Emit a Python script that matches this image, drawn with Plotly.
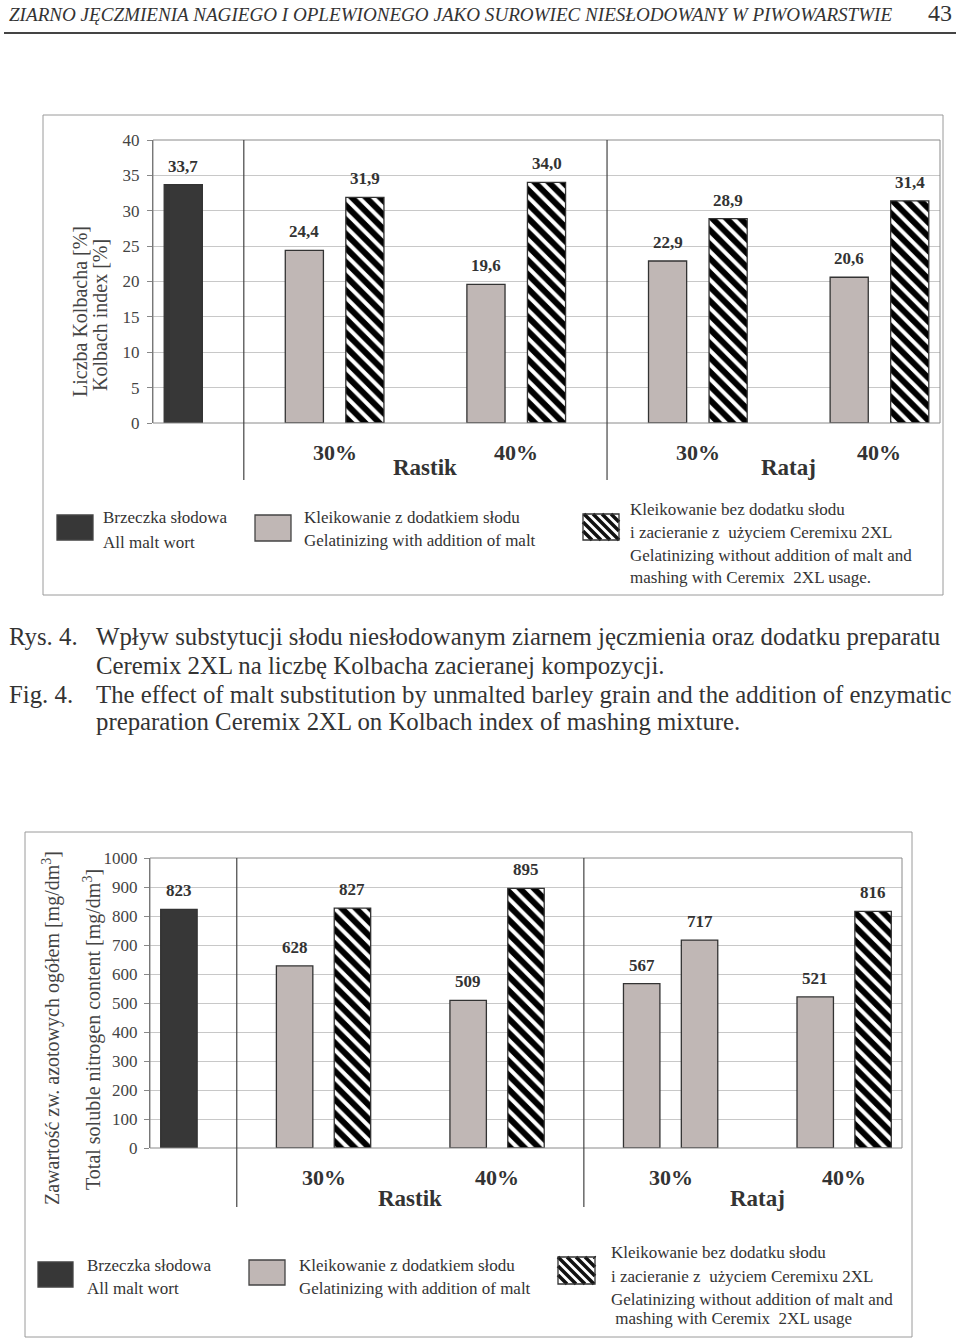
import plotly.graph_objects as go

W, H = 960, 1341

# ---------------- data ----------------
groups = ["Rastik 30%", "Rastik 40%", "Rataj 30%", "Rataj 40%"]
group_pct = ["30%", "40%", "30%", "40%"]
cultivars = ["Rastik", "Rataj"]

kolbach_wort = [33.7]
kolbach_gel = [24.4, 19.6, 22.9, 20.6]
kolbach_cer = [31.9, 34.0, 28.9, 31.4]

nitrogen_wort = [823]
nitrogen_first = [628, 509, 567, 521]
nitrogen_second = [827, 895, 717, 816]
nitrogen_second_hatched = [True, True, False, True]

legend_wort = ["Brzeczka słodowa", "All malt wort"]
legend_gel = ["Kleikowanie z dodatkiem słodu", "Gelatinizing with addition of malt"]
legend_cer_top = ["Kleikowanie bez dodatku słodu", "i zacieranie z  użyciem Ceremixu 2XL",
                  "Gelatinizing without addition of malt and", "mashing with Ceremix  2XL usage."]
legend_cer_bot = ["Kleikowanie bez dodatku słodu", "i zacieranie z  użyciem Ceremixu 2XL",
                  "Gelatinizing without addition of malt and", " mashing with Ceremix  2XL usage"]

header = "ZIARNO JĘCZMIENIA NAGIEGO I OPLEWIONEGO JAKO SUROWIEC NIESŁODOWANY W PIWOWARSTWIE"
page_no = "43"
caption = [
    ("Rys. 4.", "Wpływ substytucji słodu niesłodowanym ziarnem jęczmienia oraz dodatku preparatu"),
    ("", "Ceremix 2XL na liczbę Kolbacha zacieranej kompozycji."),
    ("Fig. 4.", "The effect of malt substitution by unmalted barley grain and the addition of enzymatic"),
    ("", "preparation Ceremix 2XL on Kolbach index of mashing mixture."),
]

# ---------------- style ----------------
FONT = "Liberation Serif"
TXT = "#333333"
DARK = "#373737"
GRAY = "#c0b7b5"
EDGE = "#333333"
GRID = "#c8c8c8"
BOX = "#9a9a9a"


def X(px):
    return px / W


def Y(py):
    return 1 - py / H


# slot layout: 0 = all-malt wort, groups occupy (2+3g, 3+3g), gaps at 1,4,7,10
wort_slot = [0]
first_slots = [2 + 3 * g for g in range(len(groups))]
second_slots = [3 + 3 * g for g in range(len(groups))]
pct_slots = [2.5 + 3 * g for g in range(len(groups))]
cult_slots = [4, 10]
sep_slots = [1, 7]
BW = 0.63

fig = go.Figure()

line_edge = dict(color=EDGE, width=1.3)
hatch = dict(shape="\\", fgcolor="#000000", bgcolor="white", size=10, solidity=0.6)

# ---- top chart (Kolbach index) ----
fig.add_trace(go.Bar(x=wort_slot, y=kolbach_wort, width=BW, xaxis="x", yaxis="y",
                     marker=dict(color=DARK, line=line_edge)))
fig.add_trace(go.Bar(x=first_slots, y=kolbach_gel, width=BW, xaxis="x", yaxis="y",
                     marker=dict(color=GRAY, line=line_edge)))
fig.add_trace(go.Bar(x=second_slots, y=kolbach_cer, width=BW, xaxis="x", yaxis="y",
                     marker=dict(color="white", line=line_edge, pattern=hatch)))

# ---- bottom chart (soluble nitrogen) ----
fig.add_trace(go.Bar(x=wort_slot, y=nitrogen_wort, width=BW, xaxis="x2", yaxis="y2",
                     marker=dict(color=DARK, line=line_edge)))
fig.add_trace(go.Bar(x=first_slots, y=nitrogen_first, width=BW, xaxis="x2", yaxis="y2",
                     marker=dict(color=GRAY, line=line_edge)))
sec_h_x = [s for s, h in zip(second_slots, nitrogen_second_hatched) if h]
sec_h_y = [v for v, h in zip(nitrogen_second, nitrogen_second_hatched) if h]
sec_p_x = [s for s, h in zip(second_slots, nitrogen_second_hatched) if not h]
sec_p_y = [v for v, h in zip(nitrogen_second, nitrogen_second_hatched) if not h]
fig.add_trace(go.Bar(x=sec_h_x, y=sec_h_y, width=BW, xaxis="x2", yaxis="y2",
                     marker=dict(color="white", line=line_edge, pattern=hatch)))
fig.add_trace(go.Bar(x=sec_p_x, y=sec_p_y, width=BW, xaxis="x2", yaxis="y2",
                     marker=dict(color=GRAY, line=line_edge)))

tickfont = dict(family=FONT, size=17, color="#444444")

fig.update_layout(
    template="none",
    width=W, height=H, margin=dict(l=0, r=0, t=0, b=0, pad=0, autoexpand=False),
    paper_bgcolor="white", plot_bgcolor="white", showlegend=False,
    bargap=0, font=dict(family=FONT, color=TXT),
    xaxis=dict(domain=[X(153), X(940)], range=[-0.5, 12.5], anchor="y", automargin=False,
               showticklabels=False, showgrid=False, zeroline=False, ticks="",
               showline=False),
    yaxis=dict(domain=[Y(423), Y(140)], range=[0, 40], dtick=5, anchor="x", automargin=False,
               showgrid=True, gridcolor=GRID, gridwidth=1, zeroline=False,
               showline=True, linecolor="#666666", linewidth=1,
               ticks="outside", ticklen=5, tickcolor="#888888",
               tickfont=tickfont, ticklabelstandoff=4),
    xaxis2=dict(domain=[X(150), X(902)], range=[-0.5, 12.5], anchor="y2", automargin=False,
                showticklabels=False, showgrid=False, zeroline=False, ticks="",
                showline=False),
    yaxis2=dict(domain=[Y(1148), Y(858)], range=[0, 1000], dtick=100, anchor="x2", automargin=False,
                showgrid=True, gridcolor=GRID, gridwidth=1, zeroline=False,
                showline=True, linecolor="#666666", linewidth=1,
                ticks="outside", ticklen=5, tickcolor="#888888",
                tickfont=tickfont, ticklabelstandoff=3),
)

shapes = []
ann = []


def text_at(px, py, text, font, xanchor="left", yanchor="middle", angle=0):
    ann.append(dict(xref="paper", yref="paper", x=X(px), y=Y(py), xanchor=xanchor, yanchor=yanchor,
                    text=text, showarrow=False, textangle=angle, font=font))


# header
text_at(7, 15, header, dict(family=FONT, size=19.1, color=TXT, style="italic"))
text_at(954, 13, page_no, dict(family=FONT, size=24, color=TXT), xanchor="right")
shapes.append(dict(type="line", xref="paper", yref="paper", x0=X(4), x1=X(956), y0=Y(33), y1=Y(33),
                   line=dict(color="#444444", width=2)))

# outer boxes
shapes.append(dict(type="rect", xref="paper", yref="paper", x0=X(43), x1=X(943), y0=Y(595), y1=Y(115),
                   line=dict(color=BOX, width=1)))
shapes.append(dict(type="rect", xref="paper", yref="paper", x0=X(25), x1=X(912), y0=Y(1337), y1=Y(832),
                   line=dict(color=BOX, width=1)))

# plot area borders & separators
for xr, yr, sep_bottom, top_px in (("x", "y", 480, 140), ("x2", "y2", 1207, 858)):
    shapes.append(dict(type="rect", xref=xr + " domain", yref=yr + " domain", x0=0, x1=1, y0=0, y1=1,
                       line=dict(color="#8a8a8a", width=1), layer="above"))
    for s in sep_slots:
        shapes.append(dict(type="line", xref=xr, yref="paper", x0=s, x1=s, y0=Y(sep_bottom), y1=Y(top_px),
                           line=dict(color="#444444", width=1.2)))

# bar value labels
lab_font = dict(family=FONT, size=17, color=TXT, weight="bold")


def fmt1(v):
    return f"{v:.1f}".replace(".", ",")


for xs, ys in ((wort_slot, kolbach_wort), (first_slots, kolbach_gel), (second_slots, kolbach_cer)):
    for xv, yv in zip(xs, ys):
        ann.append(dict(xref="x", yref="y", x=xv, y=yv, text=fmt1(yv), showarrow=False,
                        xanchor="center", yanchor="bottom", yshift=7, font=lab_font))
for xs, ys in ((wort_slot, nitrogen_wort), (first_slots, nitrogen_first), (second_slots, nitrogen_second)):
    for xv, yv in zip(xs, ys):
        ann.append(dict(xref="x2", yref="y2", x=xv, y=yv, text=f"{yv:d}", showarrow=False,
                        xanchor="center", yanchor="bottom", yshift=7, font=lab_font))

# group labels
pct_font = dict(family=FONT, size=22, color=TXT, weight="bold")
cult_font = dict(family=FONT, size=23, color=TXT, weight="bold")
for xr, ypct, ycult in (("x", 452, 467), ("x2", 1177, 1198)):
    for xs, t in zip(pct_slots, group_pct):
        ann.append(dict(xref=xr, yref="paper", x=xs, y=Y(ypct), text=t, showarrow=False,
                        xanchor="center", yanchor="middle", font=pct_font))
    for xs, t in zip(cult_slots, cultivars):
        ann.append(dict(xref=xr, yref="paper", x=xs, y=Y(ycult), text=t, showarrow=False,
                        xanchor="center", yanchor="middle", font=cult_font))

# axis titles
title_font = dict(family=FONT, size=20, color="#444444")
text_at(80, 312, "Liczba Kolbacha [%]", title_font, xanchor="center", yanchor="middle", angle=-90)
text_at(100, 315, "Kolbach index [%]", title_font, xanchor="center", yanchor="middle", angle=-90)
title_font2 = dict(family=FONT, size=20, color="#444444")
text_at(51, 1028, "Zawartość zw. azotowych ogółem [mg/dm<sup>3</sup>]", title_font2,
        xanchor="center", yanchor="middle", angle=-90)
text_at(92, 1030, "Total soluble nitrogen content [mg/dm<sup>3</sup>]", title_font2,
        xanchor="center", yanchor="middle", angle=-90)


# legends
def hatch_path(x0, y0, x1, y1, step=8):
    segs = []
    c = x0 - y1
    while c < x1 - y0:
        xs = max(x0, y0 + c)
        xe = min(x1, y1 + c)
        if xe > xs:
            segs.append(f"M {X(xs)} {Y(xs - c)} L {X(xe)} {Y(xe - c)}")
        c += step
    return " ".join(segs)


leg_font = dict(family=FONT, size=17, color=TXT)


def legend_block(dark_box, gray_box, hatch_box, wort_pos, gel_pos, cer_pos, cer_lines):
    for box, fill in ((dark_box, DARK), (gray_box, GRAY)):
        shapes.append(dict(type="rect", xref="paper", yref="paper", x0=X(box[0]), x1=X(box[2]),
                           y0=Y(box[3]), y1=Y(box[1]), fillcolor=fill,
                           line=dict(color="#444444", width=1.3)))
    x0, y0, x1, y1 = hatch_box
    shapes.append(dict(type="rect", xref="paper", yref="paper", x0=X(x0), x1=X(x1), y0=Y(y1), y1=Y(y0),
                       fillcolor="white", line=dict(width=0)))
    shapes.append(dict(type="path", xref="paper", yref="paper", path=hatch_path(x0, y0, x1, y1, 9),
                       line=dict(color="#111111", width=3.5)))
    shapes.append(dict(type="rect", xref="paper", yref="paper", x0=X(x0), x1=X(x1), y0=Y(y1), y1=Y(y0),
                       line=dict(color="#333333", width=1.3)))
    for (px, pys), lines in ((wort_pos, legend_wort), (gel_pos, legend_gel), (cer_pos, cer_lines)):
        for py, t in zip(pys, lines):
            text_at(px, py, t, leg_font)


legend_block((57, 515, 93, 540), (255, 515, 291, 541), (583, 514, 619, 540),
             (101, [517, 542]), (302, [517, 541]), (628, [510, 532, 555, 577]), legend_cer_top)
legend_block((38, 1262, 73, 1287), (249, 1260, 285, 1285), (558, 1257, 595, 1284),
             (85, [1265, 1288]), (297, [1265, 1288]), (609, [1252, 1276, 1299, 1318]), legend_cer_bot)

# caption
cap_font = dict(family=FONT, size=24.8, color=TXT)
for (lab, txt), py in zip(caption, [637, 665, 694, 722]):
    if lab:
        text_at(7, py, lab, cap_font)
    text_at(94, py, txt, cap_font)

fig.update_layout(shapes=shapes, annotations=ann)
fig.write_html(
    "out.html",
    config={"displayModeBar": False, "staticPlot": True},
    post_script=(
        "document.documentElement.style.margin='0';document.body.style.margin='0';"
        "document.body.style.overflow='hidden';"
        "var d=document.getElementById('{plot_id}');"
        "d.style.position='fixed';d.style.left='0px';d.style.top='0px';"
    ),
)
